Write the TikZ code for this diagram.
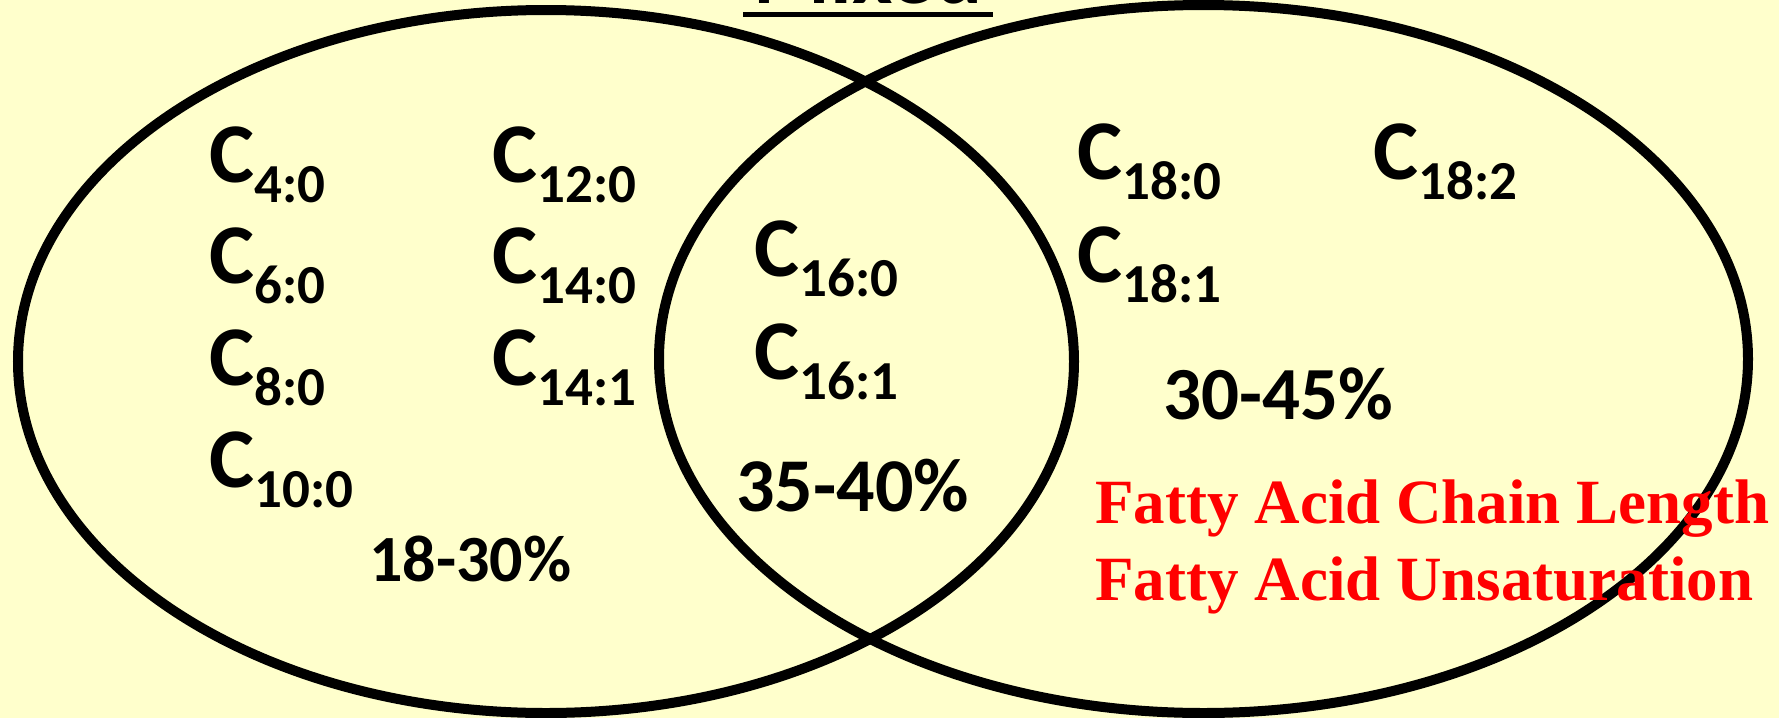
\documentclass[tikz,border=0pt]{standalone}
\usepackage{fontspec}
\setmainfont{Carlito}
\newfontfamily\redserif{Liberation Serif}
\usepackage{xcolor}
\usetikzlibrary{positioning}
\definecolor{paper}{HTML}{FFFFCC}
\definecolor{fared}{HTML}{FF0000}

% fatty acid label: C with chain:double-bond subscript
\newcommand{\fachain}[1]{C\raisebox{-10pt}{\fontsize{27.5}{30}\selectfont #1}}

\begin{document}
\begin{tikzpicture}[
    x=0.5pt, y=-0.5pt,
    ring/.style={draw=black, line width=5pt},
    acid/.style={anchor=base west, inner sep=0pt, font=\bfseries\fontsize{42.5}{46}\selectfont},
    share/.style={anchor=base west, inner sep=0pt},
    effect/.style={anchor=base west, inner sep=0pt, text=fared,
        font=\redserif\bfseries\fontsize{31.5}{36}\selectfont},
]

% --- page ---
\fill[paper] (0,0) rectangle (1779,718);
\clip (0,0) rectangle (1779,718);

% --- the two sets ---
\draw[ring] (546,361.5) ellipse [x radius=528, y radius=351.5];
\draw[ring] (1203.5,359) ellipse [x radius=544.5, y radius=354];

% --- title over the overlap (cut by the page edge) ---
\node[anchor=base, inner sep=0pt, font=\bfseries\fontsize{44}{48}\selectfont] (mixed) at (868,3) {Mixed};
\draw[line width=2.3pt] (743,14.5) -- (993,14.5);

% --- left set: short and medium chains ---
\node[acid] (c4) at (209,182) {\fachain{4:0}};
\node[acid] (c6) at ([yshift=-50.5pt]c4.base west) {\fachain{6:0}};
\node[acid] (c8) at ([yshift=-51pt]c6.base west) {\fachain{8:0}};
\node[acid] (c10) at ([yshift=-51pt]c8.base west) {\fachain{10:0}};
\node[acid] (c12) at (492,182) {\fachain{12:0}};
\node[acid] (c14) at ([yshift=-50.5pt]c12.base west) {\fachain{14:0}};
\node[acid] (c14u) at ([yshift=-51pt]c14.base west) {\fachain{14:1}};
\node[share, font=\bfseries\fontsize{33}{36}\selectfont] (left pct) at (369,581) {18-30\%};

% --- overlap: C16 ---
\node[acid] (c16) at (754,276) {\fachain{16:0}};
\node[acid] (c16u) at ([yshift=-51.5pt]c16.base west) {\fachain{16:1}};
\node[share, font=\bfseries\fontsize{38}{42}\selectfont] (mid pct) at (736,511) {35-40\%};

% --- right set: long chains ---
\node[acid] (c18) at (1077,179) {\fachain{18:0}};
\node[acid] (c18u) at ([yshift=-51.5pt]c18.base west) {\fachain{18:1}};
\node[acid] (c18d) at (1373,179) {\fachain{18:2}};
\node[share, font=\bfseries\fontsize{37.5}{41}\selectfont] (right pct) at (1163,419) {30-45\%};

\node[effect] (length) at (1095,523) {Fatty Acid Chain Length};
\node[effect] (unsat) at ([yshift=-38.5pt]length.base west) {Fatty Acid Unsaturation};

\end{tikzpicture}
\end{document}
